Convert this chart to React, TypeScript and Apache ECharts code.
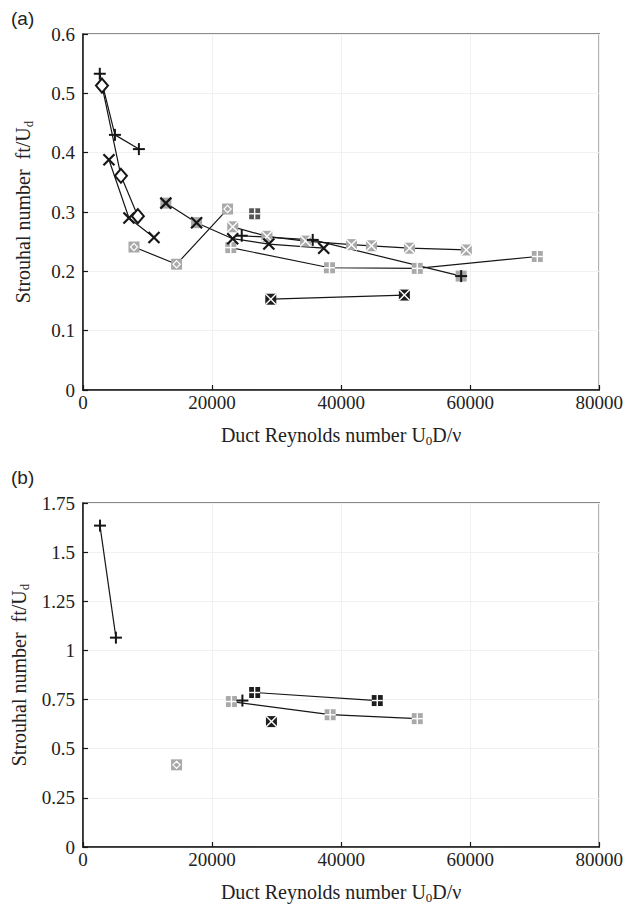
import React, { useEffect, useRef } from 'react';
import * as echarts from 'echarts';

// ---------- Panel (a) data: [Reynolds number, Strouhal number] ----------
const aPlus1 = [[2600, 0.533], [4950, 0.43], [8660, 0.406]];
const aDiamond = [[2940, 0.513], [5880, 0.361], [8500, 0.293]];
const aCross1 = [[4020, 0.388], [7120, 0.29], [11000, 0.257]];
const aCross2 = [[12840, 0.315], [17600, 0.282], [23200, 0.255], [28800, 0.246], [37300, 0.239]];
const aGrayX = [[23200, 0.275], [28500, 0.259], [34500, 0.251], [41600, 0.245], [44700, 0.243], [50600, 0.239], [59400, 0.236]];
const aPlus2 = [[24600, 0.26], [35600, 0.253], [58600, 0.192]];
const aGrayPlus = [[22900, 0.24], [38200, 0.206], [51800, 0.205], [70400, 0.225]];
const aDarkPlus = [[26600, 0.297]];
const aBlackX = [[29100, 0.153], [49800, 0.16]];
const aGrayDiamond = [[7900, 0.241], [14500, 0.212], [22400, 0.305]];

// ---------- Panel (b) data ----------
const bPlus1 = [[2630, 1.635], [5100, 1.065]];
const bGrayPlus = [[23000, 0.74], [38300, 0.673], [51800, 0.653]];
const bPlus2 = [[24700, 0.745]];
const bBlackPlus = [[26600, 0.786], [45600, 0.745]];
const bBlackX = [[29200, 0.638]];
const bGrayDiamond = [[14500, 0.418]];

// ---------- Axis ranges ----------
const xRange = [0, 80000, 20000];
const yRangeA = [0, 0.6, 0.1];
const yRangeB = [0, 1.75, 0.25];

const INK = '#161616';
const GRAY = '#a9a9a9';
const DARK = '#555555';
const BLACKSQ = '#1e1e1e';
const SERIF = 'Liberation Serif';
const SANS = 'Liberation Sans';

type SeriesDef = { name: string; data: number[][]; marker: string; markers?: string[]; line: boolean };

const seriesA: SeriesDef[] = [
  { name: 'a-grayDiamond', data: aGrayDiamond, marker: 'sqDiamond', line: true },
  { name: 'a-grayPlus', data: aGrayPlus, marker: 'sqPlus', line: true },
  { name: 'a-grayX', data: aGrayX, marker: 'sqX', line: true },
  { name: 'a-blackX', data: aBlackX, marker: 'sqXBlack', line: true },
  { name: 'a-darkPlus', data: aDarkPlus, marker: 'sqPlusDark', line: false },
  { name: 'a-plus1', data: aPlus1, marker: 'plus', line: true },
  { name: 'a-diamond', data: aDiamond, marker: 'diamond', line: true },
  { name: 'a-cross1', data: aCross1, marker: 'cross', line: true },
  { name: 'a-cross2', data: aCross2, marker: 'cross', markers: ['crossOnGray', 'crossOnGray', 'cross', 'cross', 'cross'], line: true },
  { name: 'a-plus2', data: aPlus2, marker: 'plus', markers: ['plus', 'plus', 'plusOnGray'], line: true },
];

const seriesB: SeriesDef[] = [
  { name: 'b-grayDiamond', data: bGrayDiamond, marker: 'sqDiamond', line: false },
  { name: 'b-grayPlus', data: bGrayPlus, marker: 'sqPlus', line: true },
  { name: 'b-blackPlus', data: bBlackPlus, marker: 'sqPlusBlack', line: true },
  { name: 'b-blackX', data: bBlackX, marker: 'sqXBlack', line: false },
  { name: 'b-plus1', data: bPlus1, marker: 'plus', line: true },
  { name: 'b-plus2', data: bPlus2, marker: 'plus', line: false },
];

function shapes(mk: string, x: number, y: number) {
  const c: any[] = [];
  const h = 5.5;
  const ln = (x1: number, y1: number, x2: number, y2: number, color: string, w: number) =>
    c.push({ type: 'line', shape: { x1, y1, x2, y2 }, style: { stroke: color, lineWidth: w } });
  const sq = (fill: string) =>
    c.push({ type: 'rect', shape: { x: x - h, y: y - h, width: 2 * h, height: 2 * h }, style: { fill } });
  const plus = (color: string, s: number, w: number) => {
    ln(x - s, y, x + s, y, color, w);
    ln(x, y - s, x, y + s, color, w);
  };
  const cross = (color: string, s: number, w: number) => {
    ln(x - s, y - s, x + s, y + s, color, w);
    ln(x - s, y + s, x + s, y - s, color, w);
  };
  switch (mk) {
    case 'plus': plus(INK, 6, 2); break;
    case 'plusOnGray': sq(GRAY); plus(INK, 6, 2); break;
    case 'cross': cross(INK, 5.5, 2.2); break;
    case 'crossOnGray': sq(GRAY); cross(INK, 5.5, 2.2); break;
    case 'diamond':
      c.push({ type: 'polygon', shape: { points: [[x, y - 7], [x + 6, y], [x, y + 7], [x - 6, y]] }, style: { fill: '#fff', stroke: INK, lineWidth: 2 } });
      break;
    case 'sqPlus': sq(GRAY); plus('#fff', h, 1.4); break;
    case 'sqX': sq(GRAY); cross('#fff', h, 1.4); break;
    case 'sqDiamond':
      sq(GRAY);
      c.push({ type: 'polygon', shape: { points: [[x, y - 3.6], [x + 3.6, y], [x, y + 3.6], [x - 3.6, y]] }, style: { fill: 'none', stroke: '#fff', lineWidth: 1.2 } });
      break;
    case 'sqPlusDark': sq(DARK); plus('#fff', h, 1.4); break;
    case 'sqPlusBlack': sq(BLACKSQ); plus('#fff', h, 1.4); break;
    case 'sqXBlack': sq(BLACKSQ); cross('#fff', h, 1.4); break;
  }
  return c;
}

function buildSeries(defs: SeriesDef[], axisIndex: number) {
  const out: any[] = [];
  defs.forEach((d, i) => {
    if (d.line) {
      out.push({
        type: 'line',
        name: d.name + '-line',
        xAxisIndex: axisIndex,
        yAxisIndex: axisIndex,
        data: d.data,
        symbol: 'none',
        lineStyle: { color: INK, width: 1.2 },
        z: 2,
        silent: true,
      });
    }
    out.push({
      type: 'custom',
      name: d.name,
      xAxisIndex: axisIndex,
      yAxisIndex: axisIndex,
      coordinateSystem: 'cartesian2d',
      data: d.data,
      encode: { x: 0, y: 1 },
      z: 3 + i,
      renderItem: (params: any, api: any) => {
        const p = api.coord([api.value(0), api.value(1)]);
        const mk = d.markers ? d.markers[params.dataIndex] : d.marker;
        return { type: 'group', children: shapes(mk, p[0], p[1]) };
      },
    });
  });
  return out;
}

function nameStyle() {
  return {
    fontFamily: SERIF,
    fontSize: 20,
    color: '#222',
    rich: { sub: { fontFamily: SERIF, fontSize: 13, color: '#222', padding: [11, 0, 0, 0] } },
  };
}

function xAxisDef(gridIndex: number) {
  return {
    type: 'value',
    gridIndex,
    min: xRange[0],
    max: xRange[1],
    interval: xRange[2],
    axisLine: { show: true, lineStyle: { color: INK, width: 1.5 } },
    axisTick: { show: true, inside: true, length: 5, lineStyle: { color: INK, width: 1.2 } },
    splitLine: { show: true, lineStyle: { color: '#f1f1f1', width: 1 } },
    axisLabel: { fontFamily: SERIF, fontSize: 19, color: '#222', margin: 3, formatter: (v: number) => String(v) },
    name: 'Duct Reynolds number U{sub|0}D/ν',
    nameLocation: 'middle',
    nameGap: 33,
    nameTextStyle: nameStyle(),
  };
}

function yAxisDef(gridIndex: number, r: number[]) {
  return {
    type: 'value',
    gridIndex,
    min: r[0],
    max: r[1],
    interval: r[2],
    axisLine: { show: true, lineStyle: { color: INK, width: 1.5 } },
    axisTick: { show: true, inside: true, length: 5, lineStyle: { color: INK, width: 1.2 } },
    splitLine: { show: true, lineStyle: { color: '#f1f1f1', width: 1 } },
    axisLabel: { fontFamily: SERIF, fontSize: 19, color: '#222', margin: 8, formatter: (v: number) => String(+v.toFixed(2)) },
    name: 'Strouhal number  ft/U{sub|d}',
    nameLocation: 'middle',
    nameGap: 48,
    nameTextStyle: nameStyle(),
  };
}

export default function App() {
  const ref = useRef<HTMLDivElement>(null);
  useEffect(() => {
    if (!ref.current) return;
    const chart = echarts.init(ref.current, null, { renderer: 'svg' });
    chart.setOption({
      animation: false,
      backgroundColor: '#ffffff',
      textStyle: { fontFamily: SERIF },
      grid: [
        { left: 83, top: 34, width: 517, height: 356, show: true, borderColor: '#666', borderWidth: 1.5, backgroundColor: 'transparent' },
        { left: 83, top: 503, width: 517, height: 344, show: true, borderColor: '#666', borderWidth: 1.5, backgroundColor: 'transparent' },
      ],
      xAxis: [xAxisDef(0), xAxisDef(1)],
      yAxis: [yAxisDef(0, yRangeA), yAxisDef(1, yRangeB)],
      graphic: [
        { type: 'text', left: 11, top: 9, style: { text: '(a)', fontFamily: SANS, fontSize: 19, fill: '#222' } },
        { type: 'text', left: 11, top: 468, style: { text: '(b)', fontFamily: SANS, fontSize: 19, fill: '#222' } },
      ],
      series: [...buildSeries(seriesA, 0), ...buildSeries(seriesB, 1)],
    });
    return () => chart.dispose();
  }, []);
  return <div ref={ref} style={{ position: 'absolute', left: 0, top: 0, width: 626, height: 908 }} />;
}
